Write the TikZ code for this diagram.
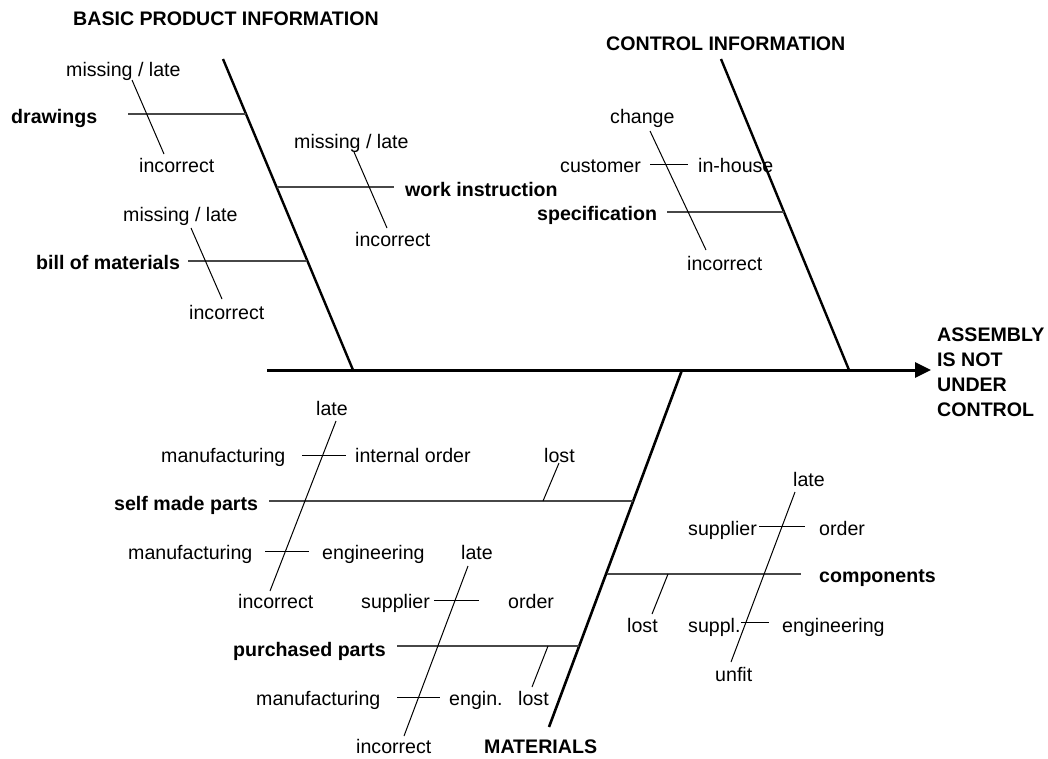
\documentclass[tikz,border=0pt]{standalone}
\usepackage{fontspec}
\setmainfont{Liberation Sans}
\usetikzlibrary{arrows.meta}
\begin{document}
\begin{tikzpicture}[x=1pt,y=-1pt,
  lbl/.style={anchor=base west,inner sep=0pt,font=\fontsize{19.6pt}{25pt}\selectfont},
  blbl/.style={lbl,font=\fontsize{19.6pt}{25pt}\selectfont\bfseries},
  spine/.style={line width=3pt,black},
  branch/.style={line width=1.6pt,black!72},
  twig/.style={line width=1pt,black}]
\useasboundingbox (0,0) rectangle (1048,758);
% main spine
\coordinate (s0) at (267,370);
\coordinate (s1) at (931,370);
\draw[spine,-{Triangle[length=16pt,width=15pt]}] (s0) -- (s1);
% category spines
\coordinate (bpiT) at (223,59);  \coordinate (bpiB) at (353,370);
\coordinate (ciT) at (721,59);   \coordinate (ciB) at (849,370);
\coordinate (matT) at (682,370); \coordinate (matB) at (549,727);
\draw[spine,line width=2.4pt] (bpiT) -- (bpiB);
\draw[spine,line width=2.4pt] (ciT) -- (ciB);
\draw[spine,line width=2.6pt] (matT) -- (matB);
% titles
\node[blbl] (tbpi) at (73,25) {BASIC PRODUCT INFORMATION};
\node[blbl] (tci) at (606,50) {CONTROL INFORMATION};
\node[blbl] (tmat) at (484,753) {MATERIALS};
\node[blbl] (effect) at (937,341) {\begin{tabular}[t]{@{}l@{}}ASSEMBLY\\IS NOT\\UNDER\\CONTROL\end{tabular}};
% ---- basic product information
\node[blbl] (draw) at (11,123) {drawings};
\node[lbl] (dml) at (66,76) {missing / late};
\node[lbl] (dinc) at (139,172) {incorrect};
\coordinate (dA) at (128,114); \coordinate (dB) at (246,114);
\draw[branch] (dA) -- (dB);
\coordinate (dd1) at (132,80); \coordinate (dd2) at (164,154);
\draw[twig] (dd1) -- (dd2);

\node[blbl] (work) at (405,196) {work instruction};
\node[lbl] (wml) at (294,148) {missing / late};
\node[lbl] (winc) at (355,246) {incorrect};
\coordinate (wA) at (277,187); \coordinate (wB) at (394,187);
\draw[branch] (wA) -- (wB);
\coordinate (wd1) at (354,152); \coordinate (wd2) at (387,228);
\draw[twig] (wd1) -- (wd2);

\node[blbl] (bom) at (36,269) {bill of materials};
\node[lbl] (bml) at (123,221) {missing / late};
\node[lbl] (binc) at (189,319) {incorrect};
\coordinate (bA) at (188,261); \coordinate (bB) at (307,261);
\draw[branch] (bA) -- (bB);
\coordinate (bd1) at (191,228); \coordinate (bd2) at (222,299);
\draw[twig] (bd1) -- (bd2);
% ---- control information
\node[blbl] (spec) at (537,220) {specification};
\node[lbl] (chg) at (610,123) {change};
\node[lbl] (cust) at (560,172) {customer};
\node[lbl] (inh) at (698,172) {in-house};
\node[lbl] (sinc) at (687,270) {incorrect};
\coordinate (spA) at (667,212); \coordinate (spB) at (784,212);
\draw[branch] (spA) -- (spB);
\coordinate (cd1) at (650,131); \coordinate (cd2) at (706,250);
\draw[twig] (cd1) -- (cd2);
\coordinate (ch1) at (650,164); \coordinate (ch2) at (688,164);
\draw[twig] (ch1) -- (ch2);
% ---- materials: self made parts
\node[blbl] (smp) at (114,510) {self made parts};
\node[lbl] (smlate) at (316,415) {late};
\node[lbl] (smman1) at (161,462) {manufacturing};
\node[lbl] (smint) at (355,462) {internal order};
\node[lbl] (smlost) at (544,462) {lost};
\node[lbl] (smman2) at (128,559) {manufacturing};
\node[lbl] (smeng) at (322,559) {engineering};
\node[lbl] (sminc) at (238,608) {incorrect};
\coordinate (smA) at (269,501); \coordinate (smB) at (633,501);
\draw[branch] (smA) -- (smB);
\coordinate (smd1) at (336,421); \coordinate (smd2) at (270,591);
\draw[twig] (smd1) -- (smd2);
\coordinate (smh1) at (302,455); \coordinate (smh2) at (346,455);
\draw[twig] (smh1) -- (smh2);
\coordinate (smh3) at (265,551); \coordinate (smh4) at (309,551);
\draw[twig] (smh3) -- (smh4);
\coordinate (sml1) at (559,463); \coordinate (sml2) at (543,501);
\draw[twig] (sml1) -- (sml2);
% ---- purchased parts
\node[blbl] (pp) at (233,656) {purchased parts};
\node[lbl] (pplate) at (461,559) {late};
\node[lbl] (ppsup) at (361,608) {supplier};
\node[lbl] (ppord) at (508,608) {order};
\node[lbl] (ppman) at (256,705) {manufacturing};
\node[lbl] (ppeng) at (449,705) {engin.};
\node[lbl] (pplost) at (518,705) {lost};
\node[lbl] (ppinc) at (356,753) {incorrect};
\coordinate (ppA) at (397,646); \coordinate (ppB) at (579,646);
\draw[branch] (ppA) -- (ppB);
\coordinate (ppd1) at (468,566); \coordinate (ppd2) at (404,736);
\draw[twig] (ppd1) -- (ppd2);
\coordinate (pph1) at (434,600); \coordinate (pph2) at (479,600);
\draw[twig] (pph1) -- (pph2);
\coordinate (pph3) at (397,697); \coordinate (pph4) at (440,697);
\draw[twig] (pph3) -- (pph4);
\coordinate (ppl1) at (548,646); \coordinate (ppl2) at (532,687);
\draw[twig] (ppl1) -- (ppl2);
% ---- components
\node[blbl] (comp) at (819,582) {components};
\node[lbl] (clate) at (793,486) {late};
\node[lbl] (csup) at (688,535) {supplier};
\node[lbl] (cord) at (819,535) {order};
\node[lbl] (clost) at (627,632) {lost};
\node[lbl] (csupl) at (688,632) {suppl.};
\node[lbl] (ceng) at (782,632) {engineering};
\node[lbl] (cunf) at (715,681) {unfit};
\coordinate (cA) at (607,574); \coordinate (cB) at (801,574);
\draw[branch] (cA) -- (cB);
\coordinate (ccd1) at (795,492); \coordinate (ccd2) at (731,662);
\draw[twig] (ccd1) -- (ccd2);
\coordinate (cch1) at (759,526); \coordinate (cch2) at (805,526);
\draw[twig] (cch1) -- (cch2);
\coordinate (cch3) at (741,622); \coordinate (cch4) at (769,622);
\draw[twig] (cch3) -- (cch4);
\coordinate (ccl1) at (668,574); \coordinate (ccl2) at (652,614);
\draw[twig] (ccl1) -- (ccl2);
\end{tikzpicture}
\end{document}
